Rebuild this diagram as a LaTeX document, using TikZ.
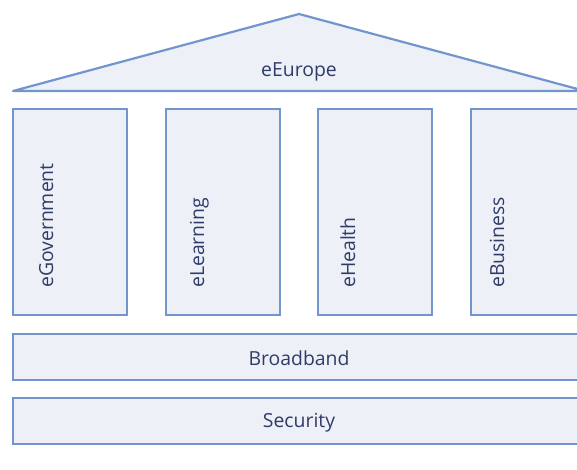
\documentclass[tikz,border=0pt]{standalone}
\usepackage{fontspec}
\setmainfont{Open Sans}
\definecolor{edge}{HTML}{7295CD}
\definecolor{panel}{HTML}{EEF0F7}
\definecolor{ink}{HTML}{2F3C69}
\tikzset{
  block/.style={draw=edge, fill=panel, line width=2.2pt},
  label/.style={text=ink, font=\fontsize{19.4}{22}\selectfont, inner sep=0pt},
  pillarlabel/.style={label, rotate=90, anchor=base west},
}
\begin{document}
\begin{tikzpicture}[x=1pt, y=-1pt]
  \useasboundingbox (0,0) rectangle (577,469);
  \clip (0,0) rectangle (577,469);
  % roof
  \draw[block, line join=round] (13,91) -- (299,14) -- (585,91) -- cycle;
  \node[label] (roof) at (299,72) {eEurope};
  % pillars
  \draw[block] (13,109) rectangle (127,315);
  \draw[block] (166,109) rectangle (280,315);
  \draw[block] (318,109) rectangle (432,315);
  \draw[block] (471,109) rectangle (585,315);
  \node[pillarlabel] (gov) at (53,288) {eGovernment};
  \node[pillarlabel] (learn) at (204,288) {eLearning};
  \node[pillarlabel] (health) at (355,288) {eHealth};
  \node[pillarlabel] (business) at (504,288) {eBusiness};
  % foundation
  \draw[block] (13,334) rectangle (585,380);
  \node[label] (broadband) at (299,358) {Broadband};
  \draw[block] (13,398) rectangle (585,444);
  \node[label] (security) at (299,423) {Security};
\end{tikzpicture}
\end{document}
